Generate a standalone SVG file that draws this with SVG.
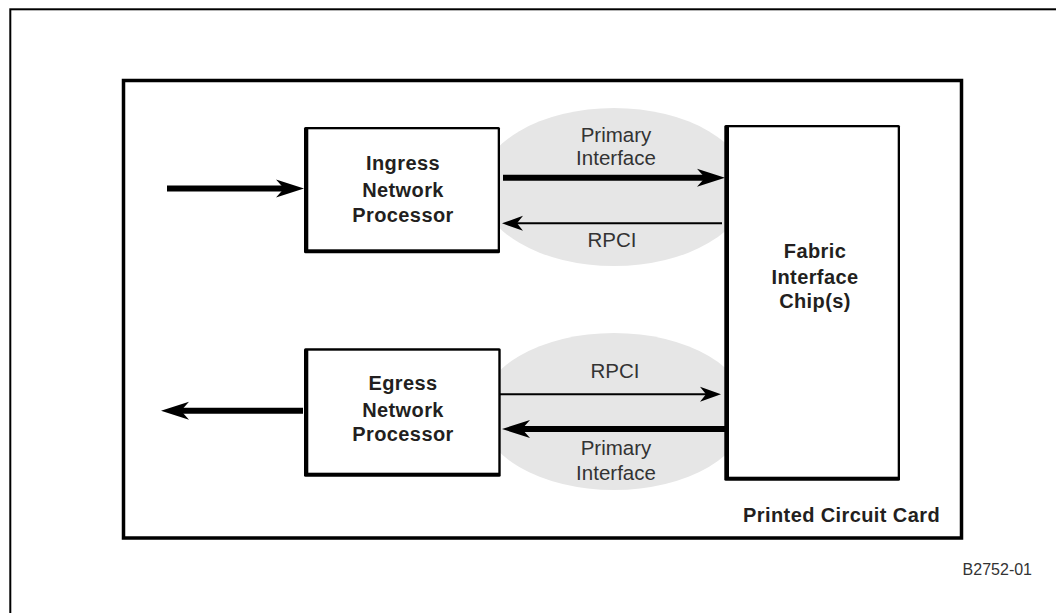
<svg xmlns="http://www.w3.org/2000/svg" width="1056" height="613" viewBox="0 0 1056 613">
<style>
.bold{font-family:"Liberation Sans",Arial,sans-serif;font-weight:bold;font-size:20px;fill:#231f20;text-anchor:middle;letter-spacing:0.4px}
.lbl{font-family:"Liberation Sans",Arial,sans-serif;font-size:20.5px;fill:#333;text-anchor:middle}
.thick{stroke:#000;stroke-width:6;fill:none}
.thin{stroke:#000;stroke-width:2;fill:none}
.blob{fill:#e6e6e6}
</style>
<defs>
<marker id="ahThick" markerUnits="userSpaceOnUse" viewBox="-30 -11 32 22" markerWidth="32" markerHeight="22" refX="-20" refY="0" orient="auto" overflow="visible">
<path d="M0,0 L-28,-9 L-20,0 L-28,9 Z" fill="#000"/>
</marker>
<marker id="ahThin" markerUnits="userSpaceOnUse" viewBox="-24 -9 26 18" markerWidth="26" markerHeight="18" refX="-15" refY="0" orient="auto" overflow="visible">
<path d="M0,0 L-21,-7.5 L-15,0 L-21,7.5 Z" fill="#000"/>
</marker>
</defs>
<rect width="1056" height="613" fill="#fff"/>
<rect id="frame" x="10.3" y="9.3" width="1100" height="700" fill="none" stroke="#000" stroke-width="2"/>
<g id="card">
<rect x="123.5" y="80.5" width="838" height="457.5" fill="none" stroke="#000" stroke-width="3.5"/>
<text class="bold" x="940" y="522" style="text-anchor:end">Printed Circuit Card</text>
</g>
<g id="interfaces">
<ellipse class="blob" cx="614" cy="187" rx="134" ry="79"/>
<ellipse class="blob" cx="614" cy="411.5" rx="134" ry="78.5"/>
</g>
<g id="ingress">
<rect x="304" y="127" width="196" height="126.3" rx="1.5" fill="#000"/>
<rect x="308.3" y="129.3" width="189.4" height="120" fill="#fff"/>
<text class="bold" x="403" y="170">Ingress</text>
<text class="bold" x="403" y="196.5">Network</text>
<text class="bold" x="403" y="222">Processor</text>
</g>
<g id="egress">
<rect x="304" y="348.3" width="196.7" height="128.4" rx="1.5" fill="#000"/>
<rect x="308.3" y="350.7" width="190" height="122" fill="#fff"/>
<text class="bold" x="403" y="390">Egress</text>
<text class="bold" x="403" y="416.5">Network</text>
<text class="bold" x="403" y="441">Processor</text>
</g>
<g id="fabric">
<rect x="724.3" y="125" width="175.7" height="355.7" rx="1.5" fill="#000"/>
<rect x="729" y="127.3" width="168.7" height="349.4" fill="#fff"/>
<text class="bold" x="815" y="258">Fabric</text>
<text class="bold" x="815" y="283.5">Interface</text>
<text class="bold" x="815" y="308">Chip(s)</text>
</g>
<g id="connectors">
<line class="thick" x1="167" y1="188.5" x2="284" y2="188.5" marker-end="url(#ahThick)"/>
<line class="thick" x1="303" y1="410.7" x2="181" y2="410.7" marker-end="url(#ahThick)"/>
<line class="thick" x1="503" y1="177.7" x2="705" y2="177.7" marker-end="url(#ahThick)"/>
<line class="thin" x1="722" y1="223.3" x2="517" y2="223.3" marker-end="url(#ahThin)"/>
<line class="thin" x1="500" y1="394.3" x2="706" y2="394.3" marker-end="url(#ahThin)"/>
<line class="thick" x1="726" y1="429" x2="522" y2="429" marker-end="url(#ahThick)"/>
</g>
<g id="labels">
<text class="lbl" x="616" y="141.7">Primary</text>
<text class="lbl" x="616" y="165">Interface</text>
<text class="lbl" x="612" y="246.7">RPCI</text>
<text class="lbl" x="615" y="378.3">RPCI</text>
<text class="lbl" x="616" y="455">Primary</text>
<text class="lbl" x="616" y="480">Interface</text>
</g>
<text id="figid" x="1032" y="575" style="font-family:'Liberation Sans',Arial,sans-serif;font-size:16px;fill:#333;text-anchor:end">B2752-01</text>
</svg>
